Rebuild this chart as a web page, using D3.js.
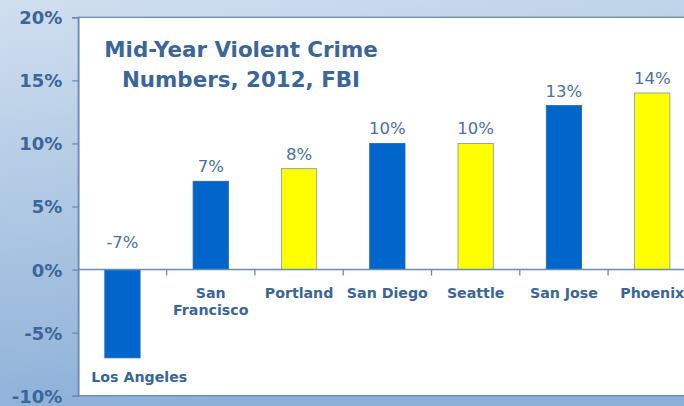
<!DOCTYPE html>
<html><head><meta charset="utf-8">
<script src="https://cdn.jsdelivr.net/npm/d3@7"></script>
<style>html,body{margin:0;padding:0;overflow:hidden;}svg{display:block;}</style>
</head><body>
<script>
const categories = ["Los Angeles", "San Francisco", "Portland", "San Diego", "Seattle", "San Jose", "Phoenix"];
const categoryLines = [["Los Angeles"], ["San", "Francisco"], ["Portland"], ["San Diego"], ["Seattle"], ["San Jose"], ["Phoenix"]];
const values = [-0.07, 0.07, 0.08, 0.10, 0.10, 0.13, 0.14];
const barColors = ["#0066cc", "#0066cc", "#ffff00", "#0066cc", "#ffff00", "#0066cc", "#ffff00"];
const yTicks = [-0.10, -0.05, 0, 0.05, 0.10, 0.15, 0.20];
const titleLines = ["Mid-Year Violent Crime", "Numbers, 2012, FBI"];

const W = 684, H = 406;
const svg = d3.select("body").append("svg").attr("width", W).attr("height", H);
const defs = svg.append("defs");
const grad = defs.append("linearGradient").attr("id", "bg").attr("x1", 0).attr("y1", 0).attr("x2", 0.25).attr("y2", 1);
grad.append("stop").attr("offset", "0%").attr("stop-color", "#d0dfef");
grad.append("stop").attr("offset", "100%").attr("stop-color", "#8db0d8");
svg.append("rect").attr("width", W).attr("height", H).attr("fill", "url(#bg)");

const y = d3.scaleLinear().domain([-0.10, 0.20]).range([395.7, 17.3]);
const x = d3.scaleBand().domain(categories).range([78.3, 696.4]).paddingInner(0.6).paddingOuter(0.3);

const axisColor = "#6a8bb4";
const textColor = "#3a6699";

// plot area
svg.append("rect").attr("x", x.range()[0]).attr("y", y(0.20))
  .attr("width", x.range()[1] - x.range()[0]).attr("height", y(-0.10) - y(0.20))
  .attr("fill", "#ffffff").attr("stroke", axisColor).attr("stroke-width", 1.3);

// y axis
const yAxis = d3.axisLeft(y).tickValues(yTicks).tickSize(6).tickPadding(10)
  .tickFormat(d => Math.round(d * 100) + "%");
const gy = svg.append("g").attr("transform", `translate(${x.range()[0]},0)`).call(yAxis);
gy.select(".domain").attr("stroke", axisColor).attr("stroke-width", 1.5);
gy.selectAll(".tick line").attr("stroke", axisColor).attr("stroke-width", 1.3);
gy.selectAll(".tick text").attr("fill", textColor)
  .style("font-family", "'DejaVu Sans', sans-serif").style("font-weight", "bold").style("font-size", "18px")
  .attr("dy", "0.36em");

// bars
svg.selectAll("rect.bar").data(categories).enter().append("rect").attr("class", "bar")
  .attr("x", d => x(d))
  .attr("y", (d, i) => y(Math.max(0, values[i])))
  .attr("width", x.bandwidth())
  .attr("height", (d, i) => Math.abs(y(values[i]) - y(0)))
  .attr("fill", (d, i) => barColors[i])
  .attr("stroke", (d, i) => barColors[i] === "#ffff00" ? "#7b96b8" : "#2a62b0")
  .attr("stroke-width", 0.8);

// x axis at zero
const step = x.step();
const boundaries = categories.slice(1).map(c => x(c) - (step - x.bandwidth()) / 2);
svg.append("line").attr("x1", x.range()[0]).attr("x2", x.range()[1])
  .attr("y1", y(0)).attr("y2", y(0)).attr("stroke", axisColor).attr("stroke-width", 1.5);
svg.selectAll("line.xt").data(boundaries).enter().append("line").attr("class", "xt")
  .attr("x1", d => d).attr("x2", d => d).attr("y1", y(0)).attr("y2", y(0) + 6)
  .attr("stroke", axisColor).attr("stroke-width", 1.3);

// value labels
svg.selectAll("text.val").data(categories).enter().append("text").attr("class", "val")
  .attr("x", d => x(d) + x.bandwidth() / 2)
  .attr("y", (d, i) => values[i] >= 0 ? y(values[i]) - 9 : y(0) - 22)
  .attr("text-anchor", "middle")
  .attr("fill", "#4a72a6")
  .style("font-family", "'DejaVu Sans', sans-serif").style("font-size", "16.5px")
  .text((d, i) => Math.round(values[i] * 100) + "%");

// category labels
categories.forEach((c, i) => {
  const base = values[i] >= 0 ? y(0) + 28 : y(values[i]) + 24.5;
  const t = svg.append("text").attr("text-anchor", "middle").attr("fill", textColor)
    .style("font-family", "'DejaVu Sans', sans-serif").style("font-weight", "bold").style("font-size", "14.2px");
  categoryLines[i].forEach((ln, j) => {
    t.append("tspan").attr("x", x(c) + x.bandwidth() / 2).attr("y", base + j * 17).text(ln);
  });
  // keep label inside plot area (Excel-style)
  const bb = t.node().getBBox();
  const minLeft = x.range()[0] + 13;
  if (bb.x < minLeft) t.attr("transform", `translate(${minLeft - bb.x},0)`);
});

// title
const tt = svg.append("text").attr("text-anchor", "middle").attr("fill", textColor)
  .style("font-family", "'DejaVu Sans', sans-serif").style("font-weight", "bold").style("font-size", "21.4px");
titleLines.forEach((ln, j) => {
  tt.append("tspan").attr("x", 241).attr("y", 57 + j * 30).text(ln);
});
</script>
</body></html>
